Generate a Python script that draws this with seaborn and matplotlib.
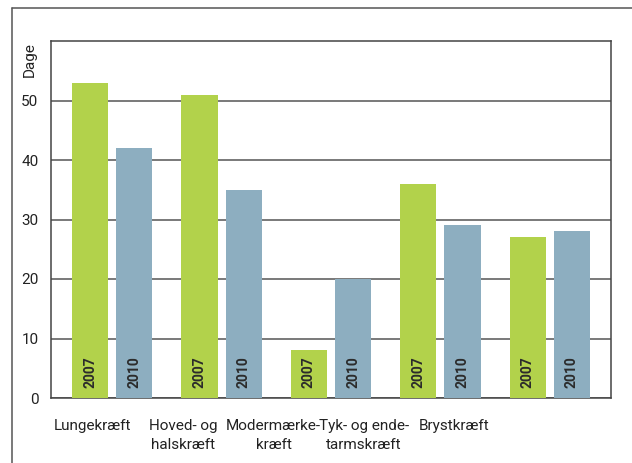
import matplotlib
matplotlib.use("Agg")
import matplotlib.pyplot as plt
import seaborn as sns
import pandas as pd
from matplotlib.lines import Line2D

categories = ["Lungekræft", "Hoved- og\nhalskræft", "Modermærke-\nkræft", "Tyk- og ende-\ntarmskræft", "Brystkræft"]
years = ["2007", "2010"]
values_2007 = [53, 51, 8, 36, 27]
values_2010 = [42, 35, 20, 29, 28]
yticks = [0, 10, 20, 30, 40, 50]
ylabel = "Dage"

df = pd.DataFrame({
    "kategori": categories * 2,
    "aar": [years[0]] * len(categories) + [years[1]] * len(categories),
    "dage": values_2007 + values_2010,
})

sns.set_theme(style="white")
plt.rcParams["font.family"] = ["Roboto", "DejaVu Sans"]

fig = plt.figure(figsize=(6.32, 4.63), dpi=100)
ax = fig.add_axes([51 / 632, 1 - 398 / 463, 560 / 632, (398 - 41) / 463])

palette = {"2007": "#b2d24b", "2010": "#8daec0"}
sns.barplot(data=df, x="kategori", y="dage", hue="aar", order=categories,
            hue_order=years, palette=palette, width=0.81, saturation=1,
            legend=False, ax=ax, zorder=3, linewidth=0)

bar_w = 0.33
for p in ax.patches:
    cx = p.get_x() + p.get_width() / 2
    p.set_x(cx - bar_w / 2)
    p.set_width(bar_w)

# year labels inside bars
for container, yr in zip(ax.containers, years):
    for p in container:
        cx = p.get_x() + p.get_width() / 2
        ax.text(cx, 1.7, yr, rotation=90, ha="center", va="bottom",
                fontsize=10, fontweight="bold", color="#2b2b2b", zorder=4)

ax.set_xlim(-0.56, 4.56)
ax.set_ylim(0, 60)
ax.set_yticks(yticks)
ax.set_yticklabels([str(t) for t in yticks], fontsize=11, color="#222222")
ax.yaxis.grid(True, color="#555555", linewidth=1.1, zorder=0)
ax.set_axisbelow(True)
ax.tick_params(axis="both", length=0)
ax.tick_params(axis="y", pad=9)

# category labels
n = len(categories)
xt = [-0.178 + 0.827 * i for i in range(n)]
ax.set_xticks(xt)
ax.set_xticklabels(categories, fontsize=11, color="#222222", linespacing=1.45, va="top")
ax.tick_params(axis="x", pad=15)
ax.set_xlabel("")
ax.set_ylabel("")

for s in ax.spines.values():
    s.set_color("#444444")
    s.set_linewidth(1.1)
    s.set_visible(True)

fig.text(30 / 632, 1 - 60 / 463, ylabel, rotation=90, ha="center", va="center",
         fontsize=11, color="#222222")

# outer frame
fig.add_artist(Line2D([12 / 632, 1.0], [1 - 7.5 / 463] * 2, transform=fig.transFigure,
                      color="#555555", linewidth=1.1))
fig.add_artist(Line2D([12 / 632] * 2, [0, 1 - 7.5 / 463], transform=fig.transFigure,
                      color="#555555", linewidth=1.1))

fig.savefig("out.png", dpi=100)
